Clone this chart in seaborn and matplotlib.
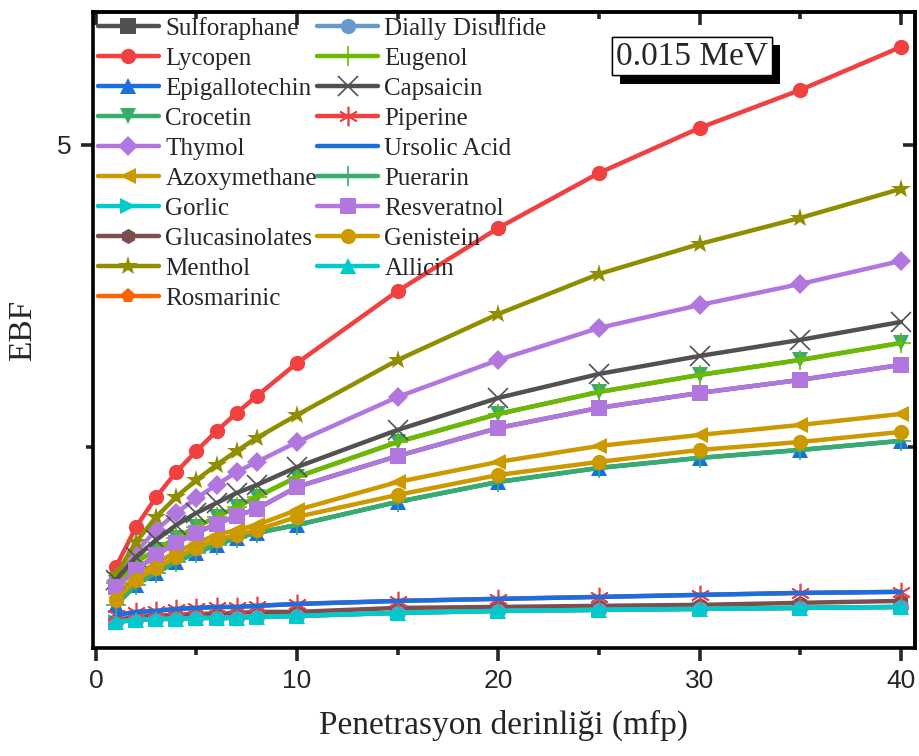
import numpy as np
import pandas as pd
import matplotlib
matplotlib.use("Agg")
import matplotlib.pyplot as plt
import matplotlib.patheffects as pe
from matplotlib.ticker import FixedLocator
import seaborn as sns

# ---------------- data ----------------
depth = [1, 2, 3, 4, 5, 6, 7, 8, 10, 15, 20, 25, 30, 35, 40]

lycopen = [1.507, 1.838, 2.086, 2.293, 2.467, 2.632, 2.781, 2.922, 3.195, 3.791, 4.313, 4.768, 5.141, 5.455, 5.811]
menthol = [1.440, 1.714, 1.921, 2.086, 2.227, 2.351, 2.467, 2.575, 2.765, 3.220, 3.601, 3.932, 4.180, 4.396, 4.636]
thymol = [1.391, 1.631, 1.813, 1.954, 2.078, 2.185, 2.293, 2.376, 2.541, 2.914, 3.220, 3.485, 3.675, 3.849, 4.040]
capsaicin = [1.399, 1.589, 1.730, 1.854, 1.954, 2.036, 2.119, 2.185, 2.334, 2.641, 2.906, 3.104, 3.253, 3.386, 3.535]
crocetin = [1.374, 1.548, 1.647, 1.747, 1.838, 1.921, 2.003, 2.086, 2.252, 2.541, 2.773, 2.955, 3.096, 3.220, 3.361]
eugenol = [1.374, 1.548, 1.647, 1.747, 1.838, 1.921, 2.003, 2.086, 2.252, 2.541, 2.773, 2.955, 3.096, 3.220, 3.361]
resveratnol = [1.341, 1.482, 1.606, 1.705, 1.788, 1.863, 1.929, 1.987, 2.169, 2.425, 2.657, 2.823, 2.947, 3.055, 3.179]
sulforaphane = [1.341, 1.482, 1.606, 1.705, 1.788, 1.863, 1.929, 1.987, 2.169, 2.425, 2.657, 2.823, 2.947, 3.055, 3.179]
azoxymethane = [1.258, 1.440, 1.540, 1.631, 1.705, 1.772, 1.813, 1.854, 1.978, 2.210, 2.376, 2.508, 2.599, 2.682, 2.773]
genistein = [1.233, 1.399, 1.498, 1.589, 1.664, 1.730, 1.772, 1.813, 1.921, 2.103, 2.268, 2.376, 2.475, 2.541, 2.624]
epigallotechin = [1.192, 1.358, 1.457, 1.548, 1.623, 1.689, 1.747, 1.788, 1.854, 2.045, 2.210, 2.326, 2.409, 2.475, 2.550]
puerarin = [1.192, 1.358, 1.457, 1.548, 1.623, 1.689, 1.747, 1.788, 1.854, 2.045, 2.210, 2.326, 2.409, 2.475, 2.550]
ursolic_acid = [1.109, 1.134, 1.142, 1.159, 1.167, 1.175, 1.175, 1.184, 1.200, 1.225, 1.242, 1.258, 1.275, 1.291, 1.300]
piperine = [1.109, 1.134, 1.142, 1.159, 1.167, 1.175, 1.175, 1.184, 1.200, 1.225, 1.242, 1.258, 1.275, 1.291, 1.300]
glucasinolates = [1.068, 1.093, 1.101, 1.109, 1.118, 1.118, 1.126, 1.134, 1.134, 1.167, 1.175, 1.184, 1.192, 1.209, 1.225]
gorlic = [1.051, 1.068, 1.076, 1.076, 1.084, 1.084, 1.084, 1.093, 1.101, 1.126, 1.142, 1.151, 1.159, 1.167, 1.175]
dially = [1.051, 1.068, 1.076, 1.076, 1.084, 1.084, 1.084, 1.093, 1.101, 1.126, 1.142, 1.151, 1.159, 1.167, 1.175]
rosmarinic = [1.051, 1.068, 1.076, 1.076, 1.084, 1.084, 1.084, 1.093, 1.101, 1.126, 1.142, 1.151, 1.159, 1.167, 1.175]
allicin = [1.051, 1.068, 1.076, 1.076, 1.084, 1.084, 1.084, 1.093, 1.101, 1.126, 1.142, 1.151, 1.159, 1.167, 1.175]

names = ["Sulforaphane", "Lycopen", "Epigallotechin", "Crocetin", "Thymol",
         "Azoxymethane", "Gorlic", "Glucasinolates", "Menthol", "Rosmarinic",
         "Dially Disulfide", "Eugenol", "Capsaicin", "Piperine", "Ursolic Acid",
         "Puerarin", "Resveratnol", "Genistein", "Allicin"]
values = [sulforaphane, lycopen, epigallotechin, crocetin, thymol,
          azoxymethane, gorlic, glucasinolates, menthol, rosmarinic,
          dially, eugenol, capsaicin, piperine, ursolic_acid,
          puerarin, resveratnol, genistein, allicin]

x_ticks = [0, 10, 20, 30, 40]
y_ticks = [5]
y_tick_labels = ["5"]

# ---------------- styles ----------------
styles = {
    "Sulforaphane": ("#515151", "s"),
    "Lycopen": ("#F14040", "o"),
    "Epigallotechin": ("#1A6FDF", "^"),
    "Crocetin": ("#37AD6B", "v"),
    "Thymol": ("#B177DE", "D"),
    "Azoxymethane": ("#CC9900", "<"),
    "Gorlic": ("#00CBCC", ">"),
    "Glucasinolates": ("#7D4E4E", "h"),
    "Menthol": ("#8E8E00", "*"),
    "Rosmarinic": ("#FB6501", "p"),
    "Dially Disulfide": ("#6699CC", "o"),
    "Eugenol": ("#6FB802", "+"),
    "Capsaicin": ("#515151", "x"),
    "Piperine": ("#F14040", (6, 2, 0)),
    "Ursolic Acid": ("#1A6FDF", None),
    "Puerarin": ("#37AD6B", "+"),
    "Resveratnol": ("#B177DE", "s"),
    "Genistein": ("#CC9900", "o"),
    "Allicin": ("#00CBCC", "^"),
}

sns.set_style("ticks")
plt.rcParams["font.family"] = ["Liberation Serif", "DejaVu Serif"]

fig = plt.figure(figsize=(9.19, 7.56), dpi=100)
ax = fig.add_axes([0.101, 0.143, 0.8946, 0.841])

for name, vals in zip(names, values):
    col, mk = styles[name]
    df = pd.DataFrame({"x": depth, "y": vals})
    big = mk in ("*",)
    thin = mk in ("+", "x") or isinstance(mk, tuple)
    if big:
        ms = 15
    elif thin:
        ms = 14
    elif mk in ("D",):
        ms = 10.5
    else:
        ms = 11
    sns.lineplot(data=df, x="x", y="y", ax=ax, color=col, marker=mk,
                 markersize=ms,
                 markeredgewidth=(1.2 if thin else 0),
                 markeredgecolor=col,
                 linewidth=3.2, label=name, legend=False)

ax.set_xlim(-0.15, 40.7)
ax.set_ylim(0.836, 6.10)
ax.set_xticks(x_ticks)
ax.xaxis.set_minor_locator(FixedLocator([5, 15, 25, 35]))
ax.set_yticks(y_ticks)
ax.set_yticklabels(y_tick_labels)
ax.yaxis.set_minor_locator(FixedLocator([2.5]))

for sp in ax.spines.values():
    sp.set_linewidth(2.6)
    sp.set_color("black")

ax.tick_params(axis="both", which="major", direction="out", length=9, width=2.6,
               labelsize=19, pad=6)
ax.tick_params(axis="both", which="minor", direction="out", length=5, width=2.6)
for lab in ax.get_xticklabels() + ax.get_yticklabels():
    lab.set_family(["Liberation Sans", "DejaVu Sans"])

# mirrored inward ticks
top = ax.secondary_xaxis("top")
top.set_xticks(x_ticks)
top.xaxis.set_minor_locator(FixedLocator([5, 15, 25, 35]))
top.tick_params(which="major", direction="in", length=9, width=2.6, labeltop=False)
top.tick_params(which="minor", direction="in", length=5, width=2.6)
top.spines["top"].set_linewidth(2.6)
right = ax.secondary_yaxis("right")
right.set_yticks(y_ticks)
right.yaxis.set_minor_locator(FixedLocator([2.5]))
right.tick_params(which="major", direction="in", length=9, width=2.6, labelright=False)
right.tick_params(which="minor", direction="in", length=5, width=2.6)
right.spines["right"].set_linewidth(2.6)

ax.set_xlabel("Penetrasyon derinliği (mfp)", fontsize=24, labelpad=12)
ax.set_ylabel("EBF", fontsize=24, labelpad=14)

handles, labels = ax.get_legend_handles_labels()
leg = ax.legend(handles, labels, ncol=2, loc="upper left", bbox_to_anchor=(0.0, 1.0),
                frameon=False, fontsize=18, handlelength=2.45, handletextpad=0.25,
                columnspacing=0.0, labelspacing=0.30, borderaxespad=0.1,
                borderpad=0.1)

t = ax.text(0.729, 0.931, "0.015 MeV", transform=ax.transAxes, fontsize=24,
            ha="center", va="center",
            bbox=dict(boxstyle="square,pad=0.12", fc="white", ec="black", lw=1.0))
t.get_bbox_patch().set_path_effects([
    pe.withSimplePatchShadow(offset=(6, -6), shadow_rgbFace="black", alpha=1.0),
    pe.Normal()])

fig.savefig("out.png", dpi=100)
